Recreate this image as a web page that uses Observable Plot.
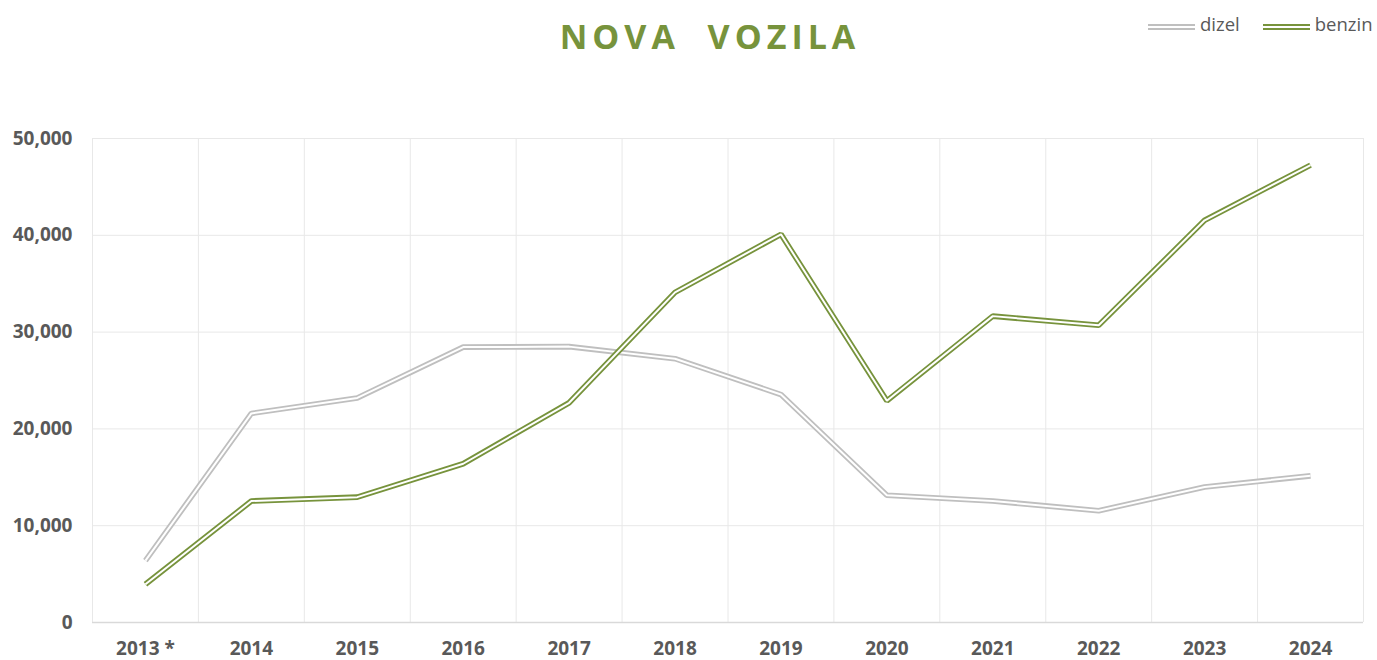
<!DOCTYPE html>
<html>
<head>
<meta charset="utf-8">
<script src="https://cdn.jsdelivr.net/npm/d3@7"></script>
<script src="https://cdn.jsdelivr.net/npm/@observablehq/plot@0.6"></script>
<style>
  html, body { margin: 0; padding: 0; background: #fff; }
  #wrap { position: relative; width: 1377px; height: 660px; overflow: hidden; font-family: "Open Sans", sans-serif; }
  #title { position: absolute; left: 0; width: 1420px; top: 14px; text-align: center; color: #77933c; font-weight: 700; font-size: 34px; letter-spacing: 5px; white-space: pre; line-height: 44px; }
  #legend { position: absolute; top: 9px; left: 1148px; font-size: 18.5px; color: #595959; white-space: nowrap; line-height: 26px; }
  .item { display: inline-block; vertical-align: middle; margin-right: 23px; }
  .sw { display: inline-block; width: 47px; height: 1.8px; border-top: 2px solid; border-bottom: 2px solid; vertical-align: middle; margin-right: 5px; position: relative; top: 1px; }
  #chart { position: absolute; left: 0; top: 0; }
</style>
</head>
<body>
<div id="wrap">
  <div id="title"></div>
  <div id="legend"></div>
  <div id="chart"></div>
</div>
<script>
const titleText = "NOVA  VOZILA";
const categories = ["2013 *", "2014", "2015", "2016", "2017", "2018", "2019", "2020", "2021", "2022", "2023", "2024"];
const dizel = [6400, 21600, 23200, 28450, 28500, 27250, 23550, 13150, 12550, 11550, 14000, 15150];
const benzin = [3950, 12550, 12950, 16400, 22700, 34100, 40100, 22900, 31650, 30700, 41550, 47250];
const yTicks = [0, 10000, 20000, 30000, 40000, 50000];
const seriesNames = ["dizel", "benzin"];
const seriesColors = ["#bfbfbf", "#77933c"];

document.getElementById("title").textContent = titleText;

const legend = document.getElementById("legend");
seriesNames.forEach((name, k) => {
  const item = document.createElement("span");
  item.className = "item";
  const sw = document.createElement("span");
  sw.className = "sw";
  sw.style.borderColor = seriesColors[k];
  item.appendChild(sw);
  item.appendChild(document.createTextNode(name));
  legend.appendChild(item);
});

const idx = d3.range(categories.length);
const rows = [dizel, benzin].map((vals, k) => idx.map(i => ({i, v: vals[i], s: seriesNames[k]})));
const bounds = d3.range(categories.length + 1).map(i => i - 0.5);

const lineMarks = [];
rows.forEach((data, k) => {
  lineMarks.push(Plot.line(data, {x: "i", y: "v", stroke: seriesColors[k], strokeWidth: 5.6, strokeLinecap: "butt", strokeLinejoin: "miter"}));
  lineMarks.push(Plot.line(data, {x: "i", y: "v", stroke: "#ffffff", strokeWidth: 2, strokeLinecap: "butt", strokeLinejoin: "miter"}));
});

const chart = Plot.plot({
  width: 1377,
  height: 660,
  marginTop: 138,
  marginBottom: 38,
  marginLeft: 92,
  marginRight: 14,
  style: {fontFamily: "Open Sans, sans-serif", background: "transparent"},
  x: {domain: [-0.5, categories.length - 0.5]},
  y: {domain: [0, 50000]},
  marks: [
    Plot.gridY(yTicks.slice(1), {stroke: "#e8e8e8", strokeOpacity: 1, strokeWidth: 1}),
    Plot.ruleX(bounds, {stroke: "#e8e8e8", strokeWidth: 1}),
    Plot.ruleY([0], {stroke: "#d9d9d9", strokeWidth: 1.3}),
    Plot.axisY(yTicks, {tickSize: 0, tickPadding: 20, tickFormat: d3.format(","), fontSize: 19, fontWeight: "bold", fill: "#595959", label: null}),
    Plot.axisX(idx, {tickSize: 0, tickPadding: 19, tickFormat: i => categories[i], fontSize: 19, fontWeight: "bold", fill: "#595959", label: null}),
    ...lineMarks
  ]
});
document.getElementById("chart").appendChild(chart);
</script>
</body>
</html>
